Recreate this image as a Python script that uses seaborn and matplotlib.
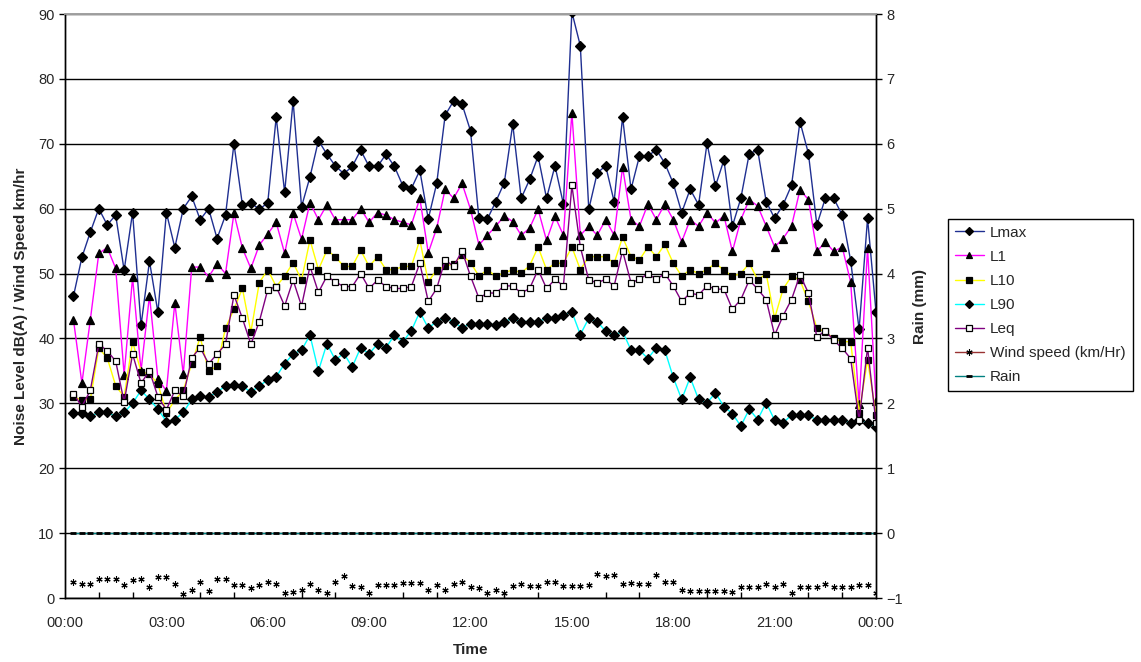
import matplotlib

matplotlib.use("Agg")

import matplotlib.dates as mdates
import matplotlib.pyplot as plt
import pandas as pd
import seaborn as sns
from matplotlib.lines import Line2D


OUTPUT_FILE = "out.png"

# readings every 15 minutes, first one at 00:15
START_TIME = "2000-01-01 00:15"
DAY_START = "2000-01-01 00:00"
DAY_END = "2000-01-02 00:00"

LMAX = [
	46.5, 52.5, 56.4, 60.0, 57.5, 59.0, 50.5, 59.4, 42.0, 51.9, 44.0, 59.4, 54.0, 60.0, 61.9, 58.3,
	60.0, 55.4, 59.0, 70.0, 60.6, 60.9, 59.9, 60.9, 74.1, 62.5, 76.6, 60.3, 64.9, 70.5, 68.4, 66.6,
	65.4, 66.5, 69.0, 66.5, 66.5, 68.4, 66.5, 63.5, 63.1, 65.9, 58.4, 63.9, 74.4, 76.6, 76.1, 72.0,
	58.5, 58.4, 61.1, 64.0, 73.0, 61.6, 64.5, 68.1, 61.6, 66.6, 60.7, 90.3, 85.1, 59.9, 65.5, 66.6,
	61.1, 74.1, 63.0, 68.1, 68.1, 69.1, 67.0, 63.9, 59.4, 63.0, 60.6, 70.1, 63.5, 67.5, 57.3, 61.6,
	68.5, 69.0, 61.1, 58.5, 60.6, 63.6, 73.4, 68.5, 57.5, 61.6, 61.6, 59.0, 52.0, 41.4, 58.5, 44.1,
]
L1 = [
	42.9, 33.1, 42.9, 53.1, 54.0, 50.8, 34.4, 49.4, 35.0, 46.6, 33.8, 31.9, 45.5, 34.5, 51.0, 51.0,
	49.5, 51.5, 50.0, 59.3, 53.9, 50.8, 54.4, 56.1, 57.9, 53.1, 59.3, 55.3, 60.9, 58.3, 60.6, 58.3,
	58.3, 58.3, 60.0, 57.9, 59.4, 59.0, 58.3, 57.9, 57.5, 61.6, 53.2, 57.0, 63.0, 61.6, 63.9, 59.9,
	54.4, 55.9, 57.3, 58.9, 58.0, 55.9, 57.0, 59.9, 55.1, 58.8, 55.9, 74.8, 55.9, 57.3, 55.9, 58.3,
	55.9, 66.4, 58.3, 57.3, 60.7, 58.3, 60.7, 58.3, 54.9, 58.3, 57.3, 59.4, 57.8, 58.9, 53.4, 58.3,
	61.4, 60.4, 57.3, 54.1, 55.4, 57.3, 62.9, 61.4, 53.4, 54.9, 53.4, 54.1, 48.7, 29.9, 53.9, 30.4,
]
L10 = [
	31.0, 30.5, 30.6, 38.5, 37.0, 32.7, 31.0, 39.5, 34.9, 34.5, 33.0, 28.5, 30.5, 32.0, 36.1, 40.2,
	35.0, 35.7, 41.6, 44.5, 47.7, 41.0, 48.6, 50.6, 48.0, 49.6, 51.7, 49.0, 55.2, 50.6, 53.6, 52.6,
	51.1, 51.1, 53.6, 51.1, 52.6, 50.6, 50.6, 51.1, 51.1, 55.2, 48.7, 50.6, 51.1, 51.5, 52.8, 51.7,
	49.6, 50.6, 49.6, 50.1, 50.6, 50.1, 51.2, 54.1, 50.6, 51.6, 51.6, 54.1, 50.6, 52.6, 52.6, 52.6,
	51.6, 55.6, 52.6, 52.1, 54.1, 52.6, 54.5, 51.6, 49.6, 50.6, 50.0, 50.6, 51.6, 50.5, 49.6, 50.0,
	51.6, 49.0, 50.0, 43.1, 47.6, 49.6, 49.0, 45.7, 41.6, 41.0, 40.0, 39.5, 39.5, 28.5, 36.7, 28.2,
]
L90 = [
	28.5, 28.5, 28.0, 28.6, 28.6, 28.0, 28.6, 30.0, 32.0, 30.6, 29.1, 27.2, 27.5, 28.6, 30.6, 31.1,
	31.0, 31.7, 32.7, 32.8, 32.7, 31.7, 32.7, 33.6, 34.1, 36.1, 37.6, 38.2, 40.5, 35.0, 39.2, 36.7,
	37.7, 35.6, 38.6, 37.6, 39.2, 38.6, 40.5, 39.5, 41.2, 44.1, 41.6, 42.6, 43.2, 42.6, 41.6, 42.3,
	42.2, 42.2, 42.1, 42.6, 43.1, 42.6, 42.6, 42.6, 43.1, 43.1, 43.6, 44.1, 40.6, 43.1, 42.6, 41.1,
	40.5, 41.1, 38.2, 38.2, 36.9, 38.6, 38.2, 34.0, 30.6, 34.0, 30.6, 30.1, 31.6, 29.5, 28.4, 26.5,
	29.1, 27.5, 30.1, 27.4, 27.0, 28.2, 28.2, 28.2, 27.4, 27.4, 27.4, 27.4, 27.0, 27.4, 27.0, 26.4,
]
LEQ = [
	31.5, 29.5, 32.0, 39.1, 38.1, 36.5, 30.2, 37.6, 33.1, 35.0, 31.0, 29.0, 32.0, 31.1, 37.0, 38.6,
	36.1, 37.6, 39.1, 46.7, 43.1, 39.1, 42.6, 47.5, 48.0, 45.0, 49.0, 45.0, 51.1, 47.1, 49.6, 48.7,
	48.0, 48.0, 50.0, 47.7, 49.0, 48.0, 47.7, 47.7, 48.0, 51.6, 45.7, 47.7, 52.1, 51.1, 53.5, 49.6,
	46.2, 47.0, 47.0, 48.1, 48.1, 47.0, 47.7, 50.6, 47.7, 49.1, 48.1, 63.6, 54.1, 49.0, 48.6, 49.1,
	48.1, 53.5, 48.6, 49.1, 50.0, 49.1, 50.0, 48.1, 45.7, 47.0, 46.7, 48.1, 47.6, 47.6, 44.5, 46.0,
	49.0, 47.6, 46.0, 40.5, 43.5, 46.0, 49.8, 47.0, 40.2, 41.2, 39.7, 38.5, 36.9, 27.4, 38.6, 27.0,
]
WIND_KMH = [
	2.5, 2.2, 2.2, 3.0, 3.0, 2.9, 2.0, 2.7, 3.0, 1.7, 3.3, 3.2, 2.2, 0.6, 1.2, 2.5,
	1.1, 2.9, 2.9, 2.0, 2.0, 1.6, 2.0, 2.4, 2.2, 0.7, 0.9, 1.2, 2.2, 1.3, 0.7, 2.4,
	3.4, 1.8, 1.7, 0.8, 2.0, 2.0, 2.0, 2.3, 2.3, 2.3, 1.3, 2.0, 1.3, 2.2, 2.4, 1.7,
	1.5, 0.7, 1.2, 0.7, 1.8, 2.2, 1.8, 1.8, 2.5, 2.5, 1.8, 1.8, 1.8, 2.0, 3.7, 3.4,
	3.5, 2.2, 2.3, 2.2, 2.2, 3.5, 2.5, 2.5, 1.3, 1.1, 1.1, 1.1, 1.1, 1.1, 1.0, 1.7,
	1.7, 1.7, 2.2, 1.7, 2.2, 0.7, 1.7, 1.7, 1.7, 2.2, 1.7, 1.7, 1.7, 2.0, 2.0, 0.7,
]
RAIN_MM = [
	0.0, 0.0, 0.0, 0.0, 0.0, 0.0, 0.0, 0.0, 0.0, 0.0, 0.0, 0.0, 0.0, 0.0, 0.0, 0.0,
	0.0, 0.0, 0.0, 0.0, 0.0, 0.0, 0.0, 0.0, 0.0, 0.0, 0.0, 0.0, 0.0, 0.0, 0.0, 0.0,
	0.0, 0.0, 0.0, 0.0, 0.0, 0.0, 0.0, 0.0, 0.0, 0.0, 0.0, 0.0, 0.0, 0.0, 0.0, 0.0,
	0.0, 0.0, 0.0, 0.0, 0.0, 0.0, 0.0, 0.0, 0.0, 0.0, 0.0, 0.0, 0.0, 0.0, 0.0, 0.0,
	0.0, 0.0, 0.0, 0.0, 0.0, 0.0, 0.0, 0.0, 0.0, 0.0, 0.0, 0.0, 0.0, 0.0, 0.0, 0.0,
	0.0, 0.0, 0.0, 0.0, 0.0, 0.0, 0.0, 0.0, 0.0, 0.0, 0.0, 0.0, 0.0, 0.0, 0.0, 0.0,
]

LEFT_TICKS = [0, 10, 20, 30, 40, 50, 60, 70, 80, 90]
RIGHT_TICKS = [-1, 0, 1, 2, 3, 4, 5, 6, 7, 8]

# name, values, line colour, marker, marker face
NOISE_SERIES = [
	("Lmax", LMAX, "#1F2F91", "D", "black"),
	("L1", L1, "#FF00FF", "^", "black"),
	("L10", L10, "#FFFF00", "s", "black"),
	("L90", L90, "#00FFFF", "D", "black"),
	("Leq", LEQ, "#800080", "s", "white"),
]
WIND_COLOR = "#993333"
RAIN_COLOR = "#008080"


def build_frame() -> pd.DataFrame:
	times = pd.date_range(START_TIME, periods=len(LMAX), freq="15min")
	df = pd.DataFrame({"time": times, "Wind": WIND_KMH, "Rain": RAIN_MM})
	for name, values, *_ in NOISE_SERIES:
		df[name] = values
	return df


def plot_chart(df: pd.DataFrame) -> None:
	sns.set_theme(style="white")
	plt.rcParams["font.family"] = ["Liberation Sans", "DejaVu Sans"]

	fig = plt.figure(figsize=(11.41, 6.62), dpi=100)
	ax = fig.add_axes([65 / 1141, 1 - 598 / 662, (876 - 65) / 1141, (598 - 14) / 662])
	ax2 = ax.twinx()

	handles = []
	for name, _, color, marker, face in NOISE_SERIES:
		msize = 5.5 if marker == "^" else 5
		sns.lineplot(
			data=df, x="time", y=name, ax=ax, color=color, linewidth=1,
			marker=marker, markersize=msize, markerfacecolor=face,
			markeredgecolor="black", markeredgewidth=0.9, legend=False,
		)
		handles.append(Line2D([], [], color=color, linewidth=1, marker=marker, markersize=msize - 0.5,
			markerfacecolor=face, markeredgecolor="black", markeredgewidth=0.9))

	sns.lineplot(
		data=df, x="time", y="Wind", ax=ax, color=WIND_COLOR, linestyle="none",
		marker=(6, 2, 0), markersize=4.5, markeredgecolor="black", markeredgewidth=0.8, legend=False,
	)
	handles.append(Line2D([], [], color=WIND_COLOR, linewidth=1, marker=(6, 2, 0), markersize=4.5,
		markeredgecolor="black", markeredgewidth=0.8))

	# rain sits on the right axis; its 0 mm level lines up with 10 on the left
	sns.lineplot(
		data=df, x="time", y="Rain", ax=ax2, color=RAIN_COLOR, linewidth=1,
		marker="_", markersize=5, markeredgecolor="black", markeredgewidth=2, legend=False,
	)
	handles.append(Line2D([], [], color=RAIN_COLOR, linewidth=1, marker="_", markersize=5,
		markeredgecolor="black", markeredgewidth=2))
	labels = [s[0] for s in NOISE_SERIES] + ["Wind speed (km/Hr)", "Rain"]

	ax.set_xlim(pd.Timestamp(DAY_START), pd.Timestamp(DAY_END))
	ax.set_ylim(LEFT_TICKS[0], LEFT_TICKS[-1])
	ax.set_yticks(LEFT_TICKS)
	ax2.set_ylim(RIGHT_TICKS[0], RIGHT_TICKS[-1])
	ax2.set_yticks(RIGHT_TICKS)

	ax.xaxis.set_major_locator(mdates.HourLocator(interval=3))
	ax.xaxis.set_minor_locator(mdates.HourLocator(interval=1))
	ax.xaxis.set_major_formatter(mdates.DateFormatter("%H:%M"))

	ax.grid(True, axis="y", color="black", linewidth=1)
	ax.set_axisbelow(True)
	ax2.grid(False)

	for a in (ax, ax2):
		for side in ("left", "right", "bottom"):
			a.spines[side].set_color("black")
			a.spines[side].set_linewidth(1)
		a.spines["top"].set_color("#A0A0A0")

	ax.tick_params(axis="x", which="major", direction="inout", length=8, width=1, color="black",
		labelsize=10.5, pad=9)
	ax.tick_params(axis="x", which="minor", direction="in", length=4, width=1, color="black", bottom=True)
	ax.tick_params(axis="y", direction="out", length=4, width=1, color="black", labelsize=10.5, left=True)
	ax2.tick_params(axis="y", direction="out", length=4, width=1, color="black", labelsize=10.5, right=True)

	ax.set_xlabel("Time", fontsize=11, fontweight="bold", labelpad=9)
	ax.set_ylabel("Noise Level dB(A) / Wind Speed km/hr", fontsize=11, fontweight="bold", labelpad=7)
	ax2.set_ylabel("Rain (mm)", fontsize=11, fontweight="bold", labelpad=7)

	fig.legend(
		handles, labels, loc="center left", bbox_to_anchor=(948 / 1141, 1 - 305 / 662),
		borderaxespad=0, frameon=True, fancybox=False, edgecolor="black", framealpha=1,
		fontsize=11, handlelength=1.9, handletextpad=0.4, borderpad=0.45, labelspacing=0.66,
	)

	fig.savefig(OUTPUT_FILE, dpi=100)
	plt.close(fig)


def main() -> None:
	df = build_frame()
	plot_chart(df)


if __name__ == "__main__":
	main()
